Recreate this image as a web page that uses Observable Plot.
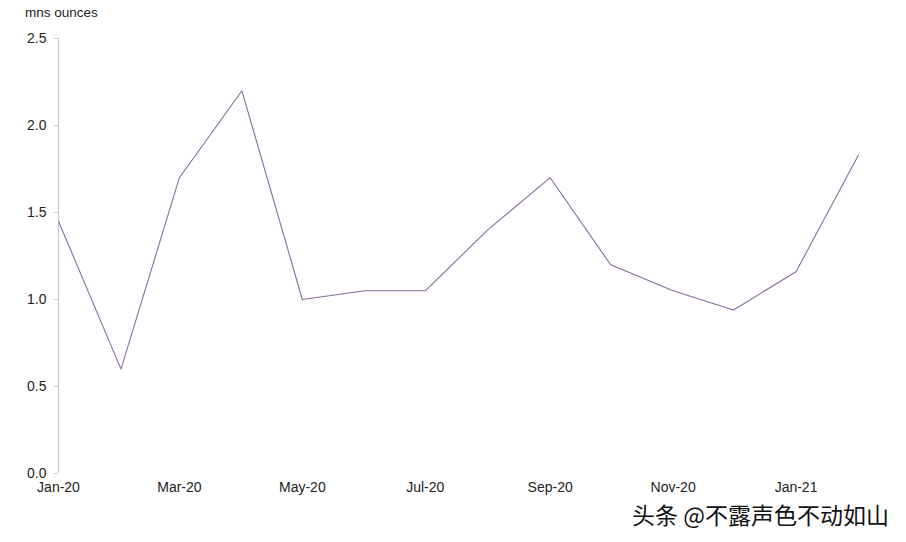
<!DOCTYPE html>
<html>
<head>
<meta charset="utf-8">
<script src="https://cdn.jsdelivr.net/npm/d3@7"></script>
<script src="https://cdn.jsdelivr.net/npm/@observablehq/plot@0.6"></script>
<style>
  html, body { margin: 0; padding: 0; background: #fff; }
  #wrap { position: relative; width: 906px; height: 542px; font-family: "Liberation Sans", Arial, sans-serif; }
  #unit { position: absolute; left: 25px; top: 5px; font-size: 13.5px; color: #222; }
  #mark { position: absolute; left: 632px; top: 497px; font-size: 23px; color: #111;
          font-family: "Noto Sans CJK SC", sans-serif; letter-spacing: 0px; white-space: nowrap;
          text-shadow: 1px 1px 0 #fff, -1px -1px 0 #fff, 1px -1px 0 #fff, -1px 1px 0 #fff; }
</style>
</head>
<body>
<div id="wrap">
  <div id="unit">mns ounces</div>
  <div id="chart"></div>
  <div id="mark">头条 @不露声色不动如山</div>
</div>
<script>
const months = ["2020-01","2020-02","2020-03","2020-04","2020-05","2020-06","2020-07",
                "2020-08","2020-09","2020-10","2020-11","2020-12","2021-01","2021-02"];
const values = [1.45, 0.6, 1.7, 2.2, 1.0, 1.05, 1.05, 1.4, 1.7, 1.2, 1.05, 0.94, 1.16, 1.83];
const yTicks = [0, 0.5, 1.0, 1.5, 2.0, 2.5];
const xTickMonths = ["2020-01","2020-03","2020-05","2020-07","2020-09","2020-11","2021-01"];

const parse = d3.utcParse("%Y-%m");
const data = months.map((m, i) => ({date: parse(m), value: values[i]}));
const xTicks = xTickMonths.map(parse);

const chart = Plot.plot({
  width: 906,
  height: 542,
  marginLeft: 58,
  marginRight: 48,
  marginTop: 38,
  marginBottom: 69,
  style: {fontFamily: "Liberation Sans, Arial, sans-serif", fontSize: "14px", color: "#222", background: "#fff"},
  x: {type: "utc", domain: [parse("2020-01"), parse("2021-02")]},
  y: {domain: [0, 2.5]},
  marks: [
    Plot.ruleX([parse("2020-01")], {stroke: "#cccccc", strokeWidth: 1.2}),
    Plot.axisY({ticks: yTicks, tickFormat: d3.format(".1f"), tickSize: 4, tickPadding: 8, stroke: "#cccccc", label: null, fill: "#222"}),
    Plot.axisX({ticks: xTicks, tickFormat: d3.utcFormat("%b-%y"), tickSize: 0, tickPadding: 9, label: null, fill: "#222"}),
    Plot.line(data, {x: "date", y: "value", stroke: "#8a6a9c", strokeWidth: 1.1})
  ]
});
document.getElementById("chart").appendChild(chart);
</script>
</body>
</html>
